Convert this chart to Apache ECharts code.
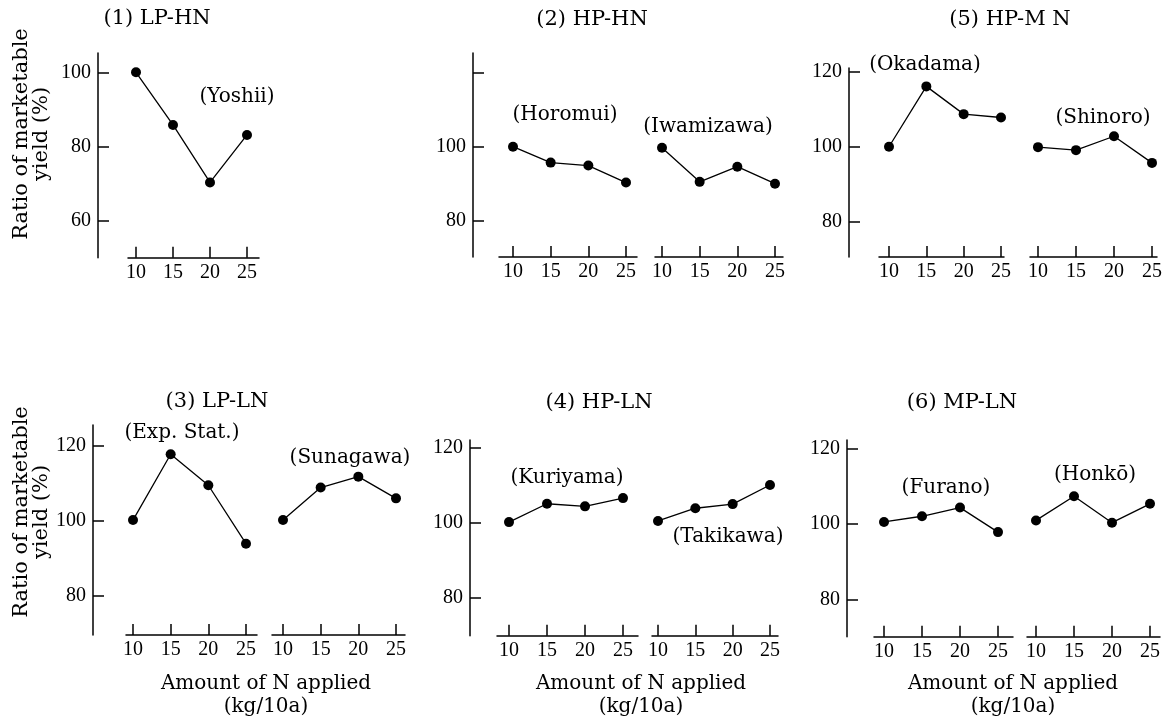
<!DOCTYPE html>
<html>
<head>
<meta charset="utf-8">
<script src="https://cdn.jsdelivr.net/npm/echarts@6/dist/echarts.min.js"></script>
<style>html,body{margin:0;padding:0;background:#fff}#c{width:1171px;height:720px}</style>
</head>
<body>
<div id="c"></div>
<script>
// ---- data (ratio of marketable yield, %) ----
const nLevels = [10, 15, 20, 25];
const xTickLabels = [10, 15, 20, 25];
const yoshii    = [100.0, 85.8, 70.3, 83.1];
const horomui   = [100.0, 95.7, 94.9, 90.3];
const iwamizawa = [99.7, 90.5, 94.6, 90.0];
const okadama   = [100.0, 116.1, 108.7, 107.8];
const shinoro   = [99.9, 99.1, 102.8, 95.7];
const expStat   = [100.2, 117.8, 109.5, 93.9];
const sunagawa  = [100.2, 108.9, 111.8, 106.0];
const kuriyama  = [100.1, 105.0, 104.3, 106.5];
const takikawa  = [100.4, 103.8, 104.9, 110.0];
const furano    = [100.5, 102.0, 104.3, 97.8];
const honko     = [100.9, 107.3, 100.3, 105.3];
const yTicksP1 = [60, 80, 100];
const yTicksStd = [80, 100, 120];
const yLabelsP2 = [80, 100];

const SERIF = '"DejaVu Serif", serif';
const NUM = '"Liberation Serif", serif';

const panels = [
  {title:'(1) LP-HN', tx:157, ty:19, top:53, bottom:257.7, ymin:50, ymax:105.2, yTicks:yTicksP1, yLabels:yTicksP1, yAxisX:98,
   subs:[{name:'(Yoshii)', data:yoshii, x10:136, x25:247, L:128, R:259, lx:237, ly:97}]},
  {title:'(2) HP-HN', tx:592, ty:20, top:53, bottom:257, ymin:70.2, ymax:125.3, yTicks:yTicksStd, yLabels:yLabelsP2, yAxisX:473,
   subs:[{name:'(Horomui)', data:horomui, x10:513, x25:626, L:499, R:637, lx:565, ly:115},
         {name:'(Iwamizawa)', data:iwamizawa, x10:662, x25:775, L:655, R:783, lx:708, ly:127}]},
  {title:'(5) HP-M N', tx:1010, ty:20, top:68, bottom:257, ymin:70.6, ymax:121, yTicks:yTicksStd, yLabels:yTicksStd, yAxisX:849,
   subs:[{name:'(Okadama)', data:okadama, x10:889, x25:1001, L:879, R:1004, lx:925, ly:65},
         {name:'(Shinoro)', data:shinoro, x10:1038, x25:1152, L:1030, R:1157, lx:1103, ly:118}]},
  {title:'(3) LP-LN', tx:217, ty:402, top:425, bottom:635, ymin:69.5, ymax:125.6, yTicks:yTicksStd, yLabels:yTicksStd, yAxisX:93,
   subs:[{name:'(Exp. Stat.)', data:expStat, x10:133, x25:246, L:126, R:257, lx:182, ly:433},
         {name:'(Sunagawa)', data:sunagawa, x10:283, x25:396, L:272, R:405, lx:350, ly:458}]},
  {title:'(4) HP-LN', tx:599, ty:403, top:440, bottom:635.7, ymin:69.8, ymax:122, yTicks:yTicksStd, yLabels:yTicksStd, yAxisX:470,
   subs:[{name:'(Kuriyama)', data:kuriyama, x10:509, x25:623, L:497, R:638, lx:567, ly:478},
         {name:'(Takikawa)', data:takikawa, x10:658, x25:770, L:652, R:778, lx:728, ly:537}]},
  {title:'(6) MP-LN', tx:962, ty:403, top:440, bottom:636.7, ymin:70.1, ymax:122.2, yTicks:yTicksStd, yLabels:yTicksStd, yAxisX:847,
   subs:[{name:'(Furano)', data:furano, x10:884, x25:998, L:874, R:1013, lx:946, ly:488},
         {name:'(Honkō)', data:honko, x10:1036, x25:1150, L:1027, R:1160, lx:1095, ly:475}]}
];

const grid = [], xAxis = [], yAxis = [], series = [], graphic = [];
panels.forEach(p => {
  graphic.push({type:'text', x:p.tx, y:p.ty, style:{text:p.title, font:'21px ' + SERIF, fill:'#000', textAlign:'center', textVerticalAlign:'middle'}});
  p.subs.forEach((s, si) => {
    const gi = grid.length;
    const ppu = (s.x25 - s.x10) / 15;
    const xmin = 10 - (s.x10 - s.L) / ppu;
    const xmax = 25 + (s.R - s.x25) / ppu;
    grid.push({left:s.L, width:s.R - s.L, top:p.top, height:p.bottom - p.top, containLabel:false});
    xAxis.push({type:'value', gridIndex:gi, min:xmin, max:xmax,
      axisLine:{show:true, onZero:false, lineStyle:{color:'#000', width:1.5}},
      axisTick:{show:true, inside:true, length:11, customValues:nLevels, lineStyle:{color:'#000', width:1.5}},
      axisLabel:{show:true, customValues:xTickLabels, margin:5, fontFamily:NUM, fontSize:20, color:'#000'},
      splitLine:{show:false}});
    yAxis.push({type:'value', gridIndex:gi, min:p.ymin, max:p.ymax, show: si === 0,
      offset: si === 0 ? (s.L - p.yAxisX) : 0,
      axisLine:{show:true, onZero:false, lineStyle:{color:'#000', width:1.5}},
      axisTick:{show:true, inside:true, length:11, customValues:p.yTicks, lineStyle:{color:'#000', width:1.5}},
      axisLabel:{show:true, customValues:p.yLabels, margin:7, fontFamily:NUM, fontSize:20, color:'#000'},
      splitLine:{show:false}});
    series.push({type:'line', name:s.name, xAxisIndex:gi, yAxisIndex:gi,
      data: nLevels.map((x, i) => [x, s.data[i]]),
      symbol:'circle', symbolSize:10, showSymbol:true,
      lineStyle:{color:'#000', width:1.3}, itemStyle:{color:'#000'}, animation:false});
    graphic.push({type:'text', x:s.lx, y:s.ly, style:{text:s.name, font:'20px ' + SERIF, fill:'#000', textAlign:'center', textVerticalAlign:'middle'}});
  });
});

// y-axis titles
[[134], [512]].forEach(([cy]) => {
  graphic.push({type:'text', x:32, y:cy, rotation:Math.PI/2,
    style:{text:'Ratio of marketable\nyield (%)', font:'21px ' + SERIF, lineHeight:20, fill:'#000', textAlign:'center', textVerticalAlign:'middle'}});
});
// x-axis titles
[266, 641, 1013].forEach(cx => {
  graphic.push({type:'text', x:cx, y:695, style:{text:'Amount of N applied\n(kg/10a)', font:'20px ' + SERIF, lineHeight:23, fill:'#000', textAlign:'center', textVerticalAlign:'middle'}});
});

const chart = echarts.init(document.getElementById('c'), null, {renderer:'canvas'});
chart.setOption({backgroundColor:'#fff', animation:false, grid, xAxis, yAxis, series, graphic});
</script>
</body>
</html>
